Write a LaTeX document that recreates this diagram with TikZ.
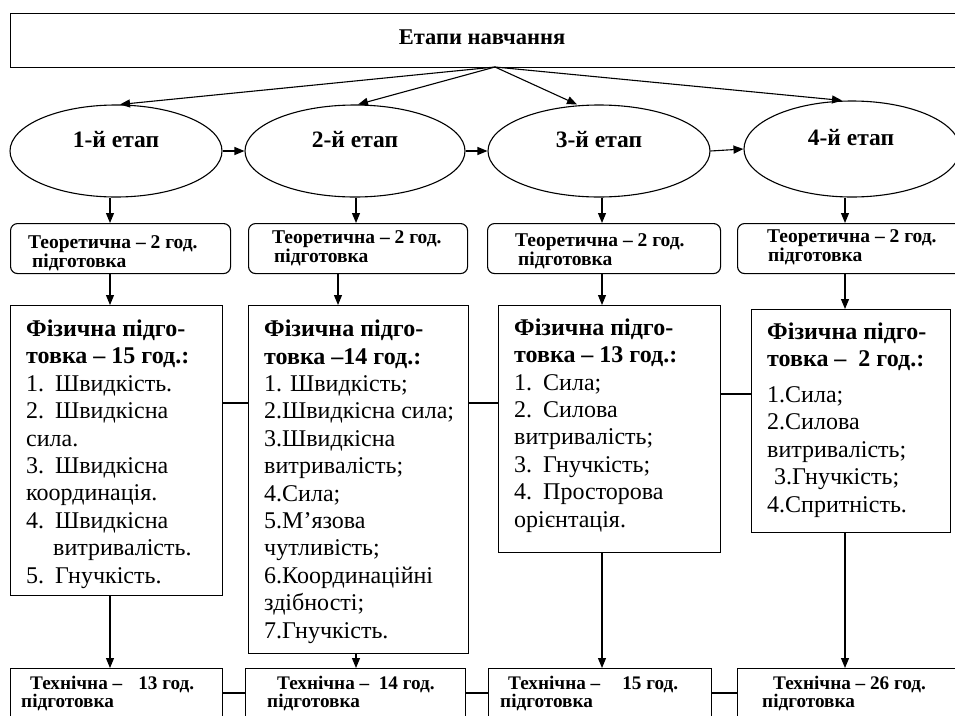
\documentclass[tikz,border=0pt]{standalone}
\usepackage{fontspec}
\setmainfont{Liberation Serif}
\usepackage{tikz}
\usetikzlibrary{calc}
\usetikzlibrary{shapes.geometric}
\usetikzlibrary{arrows.meta}

\newcommand\tightlines{\setlength{\lineskiplimit}{-20pt}}

\begin{document}
\begin{tikzpicture}[x=1pt,y=-1pt,
    box/.style={draw, line width=1.1pt, anchor=north west, inner sep=0},
    roundbox/.style={box, rounded corners=7pt, minimum height=50},
    stage/.style={draw, ellipse, line width=1.1pt, inner sep=0, minimum height=92},
    stagetext/.style={anchor=base, inner sep=0, font=\fontsize{23.5}{25}\selectfont\bfseries},
    titletext/.style={anchor=base, inner sep=0, font=\fontsize{22.5}{25}\selectfont\bfseries},
    theorytext/.style={anchor=base west, inner sep=0, align=left,
      font={\fontsize{19.5}{19}\selectfont\bfseries\tightlines}},
    techtext/.style={anchor=base west, inner sep=0, align=left,
      font={\fontsize{19.2}{17.5}\selectfont\bfseries\tightlines}},
    listtext/.style={anchor=base west, inner sep=0, align=left, font=\fontsize{24}{27.4}\selectfont},
    arr/.style={-{Triangle[length=10pt,width=8pt]}, line width=1.1pt},
    link/.style={line width=1.1pt}]

            \def\gap{\hspace{11pt}} % Gap after list number

            % Fix the visible region
            \useasboundingbox (0,0) rectangle (955,715);
            \clip (0,0) rectangle (955,715);

            % Columns of the vertical connectors
            \coordinate (x1) at (110,0);
            \coordinate (x2) at (356,0);
            \coordinate (x2b) at (338,0);
            \coordinate (x3) at (602,0);
            \coordinate (x4) at (845,0);
            \coordinate (hf) at (0,403);
            \coordinate (hg) at (0,394);
            \coordinate (hc) at (0,693);

            % Draw the title box
            \node[box, minimum width=960, minimum height=54] (top) at (10,13) {};
            \node[titletext] (title) at (482,44) {Етапи навчання};
            \coordinate (src) at (495,67);

            % Draw the stages
            \node[stage, minimum width=212] (e1) at (116,151) {};
            \node[stage, minimum width=220] (e2) at (355,151) {};
            \node[stage, minimum width=222] (e3) at (599,151) {};
            \node[stage, minimum width=216, minimum height=96] (e4) at (852,149) {};
            \node[stagetext] (e1t) at (116,147) {1-й етап};
            \node[stagetext] (e2t) at (355,147) {2-й етап};
            \node[stagetext] (e3t) at (599,147) {3-й етап};
            \node[stagetext] (e4t) at (851,145) {4-й етап};

            % Draw the theory boxes (base is the last line)
            \node[roundbox, minimum width=220] (t1) at (10,223) {};
            \node[roundbox, minimum width=219] (t2) at (248,223) {};
            \node[roundbox, minimum width=233] (t3) at (487,223) {};
            \node[roundbox, minimum width=225] (t4) at (737,223) {};
            \node[theorytext] (t1t) at (28,267) {Теоретична – 2 год.\\\hspace*{4pt}підготовка};
            \node[theorytext] (t2t) at (272,262) {Теоретична – 2 год.\\\hspace*{2pt}підготовка};
            \node[theorytext] (t3t) at (515,265) {Теоретична – 2 год.\\\hspace*{3pt}підготовка};
            \node[theorytext] (t4t) at (767,261) {Теоретична – 2 год.\\\hspace*{1pt}підготовка};

            % Draw the physical training boxes
            \node[box, minimum width=212, minimum height=290] (f1) at (10,305) {};
            \node[box, minimum width=220, minimum height=348] (f2) at (248,305) {};
            \node[box, minimum width=222, minimum height=247] (f3) at (498,305) {};
            \node[box, minimum width=199, minimum height=223] (f4) at (751,309) {};

            \node[listtext] (f1t) at (26,583) {\textbf{Фізична підго-}\\\textbf{товка – 15 год.:}\\
              1.\gap Швидкість.\\2.\gap Швидкісна\\сила.\\3.\gap Швидкісна\\координація.\\
              4.\gap Швидкісна\\\hspace*{27pt}витривалість.\\5.\gap Гнучкість.};
            \node[listtext] (f2t) at (264,638) {\textbf{Фізична підго-}\\\textbf{товка –14 год.:}\\
              1. Швидкість;\\2.Швидкісна сила;\\3.Швидкісна\\витривалість;\\4.Сила;\\
              5.М’язова\\чутливість;\\6.Координаційні\\здібності;\\7.Гнучкість.};
            \node[listtext] (f3t) at (514,527) {\textbf{Фізична підго-}\\\textbf{товка – 13 год.:}\\
              1.\gap Сила;\\2.\gap Силова\\витривалість;\\3.\gap Гнучкість;\\
              4.\gap Просторова\\орієнтація.};
            \node[listtext] (f4t) at (767,512) {\textbf{Фізична підго-}\\\textbf{товка –\ \ 2 год.:}\\[8.6pt]
              1.Сила;\\2.Силова\\витривалість;\\\hspace*{7pt}3.Гнучкість;\\4.Спритність.};

            % Draw the technical boxes
            \node[box, minimum width=212, minimum height=80] (c1) at (10,668) {};
            \node[box, minimum width=220, minimum height=80] (c2) at (245,668) {};
            \node[box, minimum width=223, minimum height=80] (c3) at (488,668) {};
            \node[box, minimum width=225, minimum height=80] (c4) at (737,668) {};
            \node[techtext] (c1t) at (21,707) {\hspace*{9pt}Технічна –\hspace{16pt}13 год.\\підготовка};
            \node[techtext] (c2t) at (267,707) {\hspace*{10pt}Технічна –\ \ 14 год.\\підготовка};
            \node[techtext] (c3t) at (500,707) {\hspace*{8pt}Технічна –\hspace{22pt}15 год.\\підготовка};
            \node[techtext] (c4t) at (762,707) {\hspace*{11pt}Технічна – 26 год.\\підготовка};

            % Draw arrows from the title
            \draw[arr] (src) -- ([xshift=4pt]e1.north);
            \draw[arr] (src) -- ([xshift=3pt]e2.north);
            \draw[arr] (src) -- ([xshift=-22pt]e3.north);
            \draw[arr] (src) -- ([xshift=-10pt]e4.north);

            % Draw arrows between stages
            \draw[arr] (e1.east) -- (e2.west);
            \draw[arr] (e2.east) -- (e3.west);
            \draw[arr] (e3.east) -- (e4.west);

            % Draw vertical arrows
            \draw[arr] (e1.south -| x1) -- (t1.north -| x1);
            \draw[arr] (e2.south -| x2) -- (t2.north -| x2);
            \draw[arr] (e3.south -| x3) -- (t3.north -| x3);
            \draw[arr] (e4.south -| x4) -- (t4.north -| x4);

            \draw[arr] (t1.south -| x1) -- (f1.north -| x1);
            \draw[arr] (t2.south -| x2b) -- (f2.north -| x2b);
            \draw[arr] (t3.south -| x3) -- (f3.north -| x3);
            \draw[arr] (t4.south -| x4) -- (f4.north -| x4);

            \draw[arr] (f1.south -| x1) -- (c1.north -| x1);
            \draw[arr] (f2.south -| x2) -- (c2.north -| x2);
            \draw[arr] (f3.south -| x3) -- (c3.north -| x3);
            \draw[arr] (f4.south -| x4) -- (c4.north -| x4);

            % Draw horizontal links
            \draw[link] (f1.east |- hf) -- (f2.west |- hf);
            \draw[link] (f2.east |- hf) -- (f3.west |- hf);
            \draw[link] (f3.east |- hg) -- (f4.west |- hg);
            \draw[link] (c1.east |- hc) -- (c2.west |- hc);
            \draw[link] (c2.east |- hc) -- (c3.west |- hc);
            \draw[link] (c3.east |- hc) -- (c4.west |- hc);

        \end{tikzpicture}
\end{document}
